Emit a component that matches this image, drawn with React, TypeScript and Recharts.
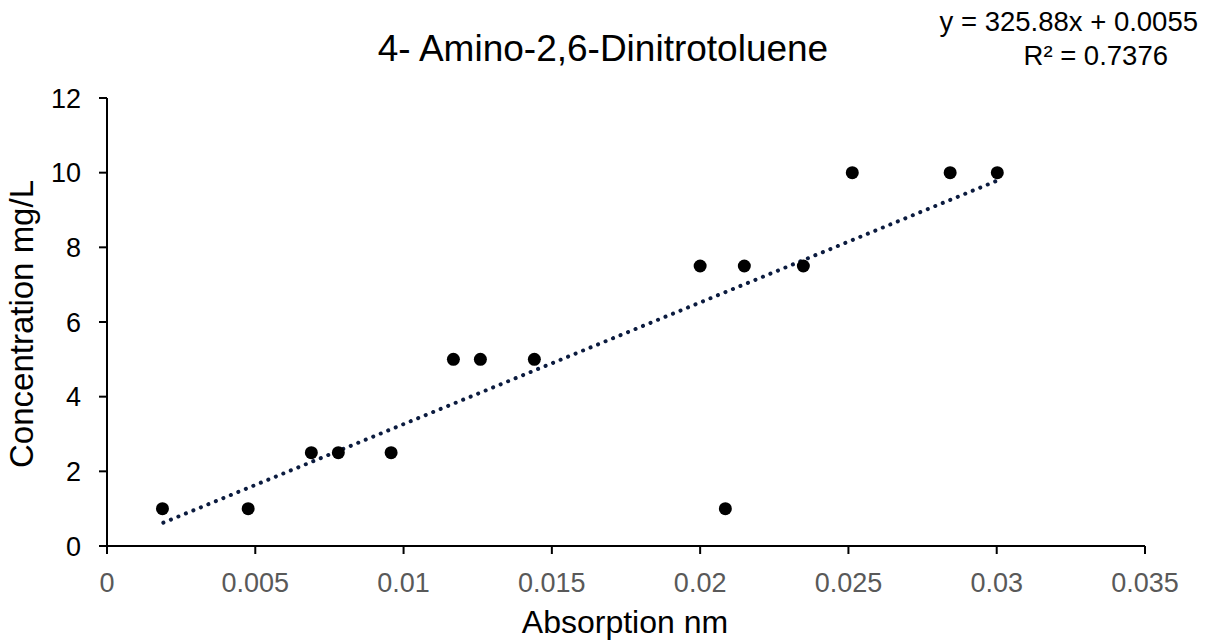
import React from 'react';
import { ScatterChart, Scatter, XAxis, YAxis } from 'recharts';

const absorption = [
  0.00187, 0.00476, 0.00689, 0.0078, 0.00958, 0.01168, 0.01259, 0.01441,
  0.02, 0.02085, 0.02149, 0.02348, 0.02513, 0.02843, 0.03002,
];
const concentration = [1, 1, 2.5, 2.5, 2.5, 5, 5, 5, 7.5, 1, 7.5, 7.5, 10, 10, 10];

const xTicks = [0, 0.005, 0.01, 0.015, 0.02, 0.025, 0.03, 0.035];
const yTicks = [0, 2, 4, 6, 8, 10, 12];

// linear trendline as reported on the chart
const slope = 325.88;
const intercept = 0.0055;
const trendRange = [0.0019, 0.03];

const points = absorption.map((x, i) => ({ x, y: concentration[i] }));
const trend = trendRange.map((x) => ({ x, y: slope * x + intercept }));

const FONT = '"Liberation Sans", Arial, sans-serif';

const Dot = (props: any) => <circle cx={props.cx} cy={props.cy} r={6.5} fill="#000" />;
const NoDot = () => <g />;

export default function App() {
  return (
    <div style={{ position: 'absolute', left: 0, top: 0, width: 1206, height: 642, background: '#fff', fontFamily: FONT }}>
      <ScatterChart width={1206} height={642} margin={{ top: 98, right: 61, bottom: 0, left: 0 }}>
        <XAxis
          type="number"
          dataKey="x"
          domain={[0, 0.035]}
          ticks={xTicks}
          tickFormatter={(v) => String(v)}
          height={96}
          stroke="#000"
          strokeWidth={2}
          tickSize={8}
          tickMargin={19}
          tick={{ fill: '#595959', fontSize: 27, fontFamily: FONT }}
          tickLine={{ stroke: '#000', strokeWidth: 2 }}
        />
        <YAxis
          type="number"
          dataKey="y"
          domain={[0, 12]}
          ticks={yTicks}
          width={107}
          stroke="#000"
          strokeWidth={2}
          tickSize={8}
          tickMargin={18}
          tick={{ fill: '#000', fontSize: 27, fontFamily: FONT }}
          tickLine={{ stroke: '#000', strokeWidth: 2 }}
        />
        <Scatter
          data={trend}
          isAnimationActive={false}
          shape={NoDot}
          line={{ stroke: '#0b1b3f', strokeWidth: 4, strokeDasharray: '0.1 8', strokeLinecap: 'round' }}
        />
        <Scatter data={points} isAnimationActive={false} shape={Dot} />
      </ScatterChart>

      <div style={{ position: 'absolute', left: 0, width: 1206, top: 29, textAlign: 'center', fontSize: 37, lineHeight: '40px', color: '#000' }}>
        4- Amino-2,6-Dinitrotoluene
      </div>
      <div style={{ position: 'absolute', right: 8, top: 7, fontSize: 27.5, lineHeight: '30px', color: '#000', whiteSpace: 'nowrap' }}>
        y = 325.88x + 0.0055
      </div>
      <div style={{ position: 'absolute', right: 38, top: 41, fontSize: 27.5, lineHeight: '30px', color: '#000', whiteSpace: 'nowrap' }}>
        R² = 0.7376
      </div>
      <div style={{ position: 'absolute', left: 0, width: 1250, top: 604, textAlign: 'center', fontSize: 32, lineHeight: '36px', color: '#000' }}>
        Absorption nm
      </div>
      <div
        style={{
          position: 'absolute',
          left: 22,
          top: 324,
          transform: 'translate(-50%, -50%) rotate(-90deg)',
          fontSize: 33,
          lineHeight: '38px',
          whiteSpace: 'nowrap',
          color: '#000',
        }}
      >
        Concentration mg/L
      </div>
    </div>
  );
}
